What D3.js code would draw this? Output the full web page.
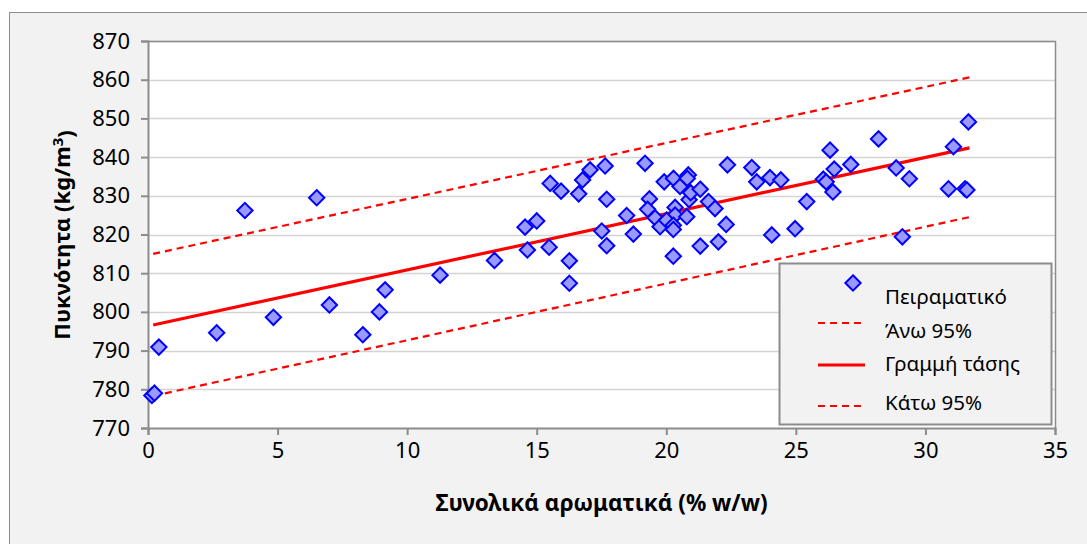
<!DOCTYPE html>
<html>
<head>
<meta charset="utf-8">
<script src="https://cdn.jsdelivr.net/npm/d3@7"></script>
<style>
  html, body { margin: 0; padding: 0; background: #ffffff; }
  svg { display: block; }
  text { font-family: "Noto Sans", "Open Sans", sans-serif; fill: #000; }
</style>
</head>
<body>
<svg id="chart" width="1087" height="544"></svg>
<script>
// Measured samples: total aromatics (% w/w) and density (kg/m3)
const aromatics = [
  0.15, 0.25, 0.42, 2.65, 3.74, 4.84, 6.51, 7.0, 8.29, 8.93,
  9.15, 11.27, 13.37, 14.55, 14.64, 15.0, 15.48, 15.52, 15.94, 16.26,
  16.26, 16.62, 16.77, 17.06, 17.64, 17.70, 17.51, 17.70, 18.47, 18.73,
  19.18, 19.35, 19.28, 19.57, 19.76, 19.92, 20.28, 20.34, 20.34, 20.01,
  20.27, 20.27, 20.27, 20.53, 20.79, 20.85, 20.81, 20.88, 20.94, 21.31,
  21.63, 21.88, 22.31, 21.31, 22.01, 22.36, 23.30, 23.49, 24.0, 24.42,
  24.07, 24.97, 25.42, 26.06, 26.17, 26.32, 26.48, 26.43, 27.12, 28.19,
  28.87, 29.38, 29.11, 30.89, 31.08, 31.53, 31.60, 31.66
];
const density = [
  778.4, 779.0, 790.9, 794.6, 826.2, 798.6, 829.5, 801.8, 794.1, 800.0,
  805.7, 809.5, 813.3, 821.9, 816.0, 823.5, 816.7, 833.2, 831.2, 813.2,
  807.4, 830.5, 834.1, 836.7, 837.7, 829.1, 820.9, 817.1, 824.9, 820.1,
  838.4, 829.2, 826.5, 824.3, 822.0, 833.6, 834.5, 827.0, 825.0, 823.7,
  822.4, 821.3, 814.4, 832.4, 824.6, 835.4, 834.5, 829.0, 830.8, 831.7,
  828.5, 826.7, 822.6, 817.0, 818.1, 838.0, 837.3, 833.6, 834.7, 834.1,
  819.9, 821.5, 828.5, 834.3, 833.6, 841.8, 836.9, 831.0, 838.1, 844.7,
  837.2, 834.4, 819.4, 831.8, 842.7, 831.8, 831.5, 849.1
];

// Linear trend and 95% band, given at both ends of the data range
const fitX = [0.2, 31.7];
const trendY = [796.6, 842.4];
const upperY = [815.0, 860.6];
const lowerY = [778.3, 824.5];

const xTicks = [0, 5, 10, 15, 20, 25, 30, 35];
const yTicks = [770, 780, 790, 800, 810, 820, 830, 840, 850, 860, 870];

const xTitle = "Συνολικά αρωματικά (% w/w)";
const yTitle = "Πυκνότητα (kg/m";
const legendLabels = ["Πειραματικό", "Άνω 95%", "Γραμμή τάσης", "Κάτω 95%"];

const svg = d3.select("#chart");
const plot = { left: 148, top: 41, right: 1055, bottom: 428 };

// chart area frame
svg.append("rect")
  .attr("x", 9.5).attr("y", 12.5)
  .attr("width", 1090).attr("height", 540)
  .attr("fill", "#f2f2f2").attr("stroke", "#8c8c8c").attr("stroke-width", 1);

// plot area
svg.append("rect")
  .attr("x", plot.left).attr("y", plot.top)
  .attr("width", plot.right - plot.left).attr("height", plot.bottom - plot.top)
  .attr("fill", "#ffffff");

const x = d3.scaleLinear().domain([0, 35]).range([plot.left, plot.right]);
const y = d3.scaleLinear().domain([770, 870]).range([plot.bottom, plot.top]);

// horizontal gridlines
svg.append("g").selectAll("line")
  .data(yTicks.slice(1))
  .join("line")
  .attr("x1", plot.left).attr("x2", plot.right)
  .attr("y1", d => Math.round(y(d)) + 0.5).attr("y2", d => Math.round(y(d)) + 0.5)
  .attr("stroke", "#d4d4d4").attr("stroke-width", 1.5);

// plot border on top and right
svg.append("path")
  .attr("d", `M${plot.left},${plot.top + 0.5}H${plot.right + 0.5}V${plot.bottom}`)
  .attr("fill", "none").attr("stroke", "#8c8c8c").attr("stroke-width", 1.5);

// axes
const yAxis = d3.axisLeft(y).tickValues(yTicks).tickSize(7).tickPadding(8).tickFormat(d3.format("d"));
const gy = svg.append("g").attr("transform", `translate(${plot.left},0)`).call(yAxis);
const xAxis = d3.axisBottom(x).tickValues(xTicks).tickSize(7).tickPadding(4).tickFormat(d3.format("d"));
const gx = svg.append("g").attr("transform", `translate(0,${plot.bottom})`).call(xAxis);

[gx, gy].forEach(g => {
  g.select(".domain").attr("stroke", "#8c8c8c").attr("stroke-width", 2);
  g.selectAll(".tick line").attr("stroke", "#8c8c8c").attr("stroke-width", 2);
  g.selectAll(".tick text")
    .attr("font-family", "'Noto Sans', sans-serif")
    .attr("font-size", 22).attr("fill", "#000");
});
gy.selectAll(".tick text").attr("dx", -3);
gx.selectAll(".tick text").attr("dy", "0.85em");

// fitted lines
const line = d3.line().x(d => x(d[0])).y(d => y(d[1]));
const bandStyle = { stroke: "#ff0000", width: 2.2, dash: "7,5" };

svg.append("path")
  .datum(d3.zip(fitX, upperY))
  .attr("d", line).attr("fill", "none")
  .attr("stroke", bandStyle.stroke).attr("stroke-width", bandStyle.width)
  .attr("stroke-dasharray", bandStyle.dash);

svg.append("path")
  .datum(d3.zip(fitX, lowerY))
  .attr("d", line).attr("fill", "none")
  .attr("stroke", bandStyle.stroke).attr("stroke-width", bandStyle.width)
  .attr("stroke-dasharray", bandStyle.dash);

svg.append("path")
  .datum(d3.zip(fitX, trendY))
  .attr("d", line).attr("fill", "none")
  .attr("stroke", "#ff0000").attr("stroke-width", 3.2);

// experimental points as diamonds
const diamond = d3.symbol().type(d3.symbolDiamond2).size(150);
svg.append("g").selectAll("path")
  .data(d3.zip(aromatics, density))
  .join("path")
  .attr("d", diamond)
  .attr("transform", d => `translate(${x(d[0])},${y(d[1])})`)
  .attr("fill", "#9999ff").attr("stroke", "#0000ff").attr("stroke-width", 2);

// legend
const legend = svg.append("g");
legend.append("rect")
  .attr("x", 779.5).attr("y", 263.5).attr("width", 272).attr("height", 161)
  .attr("fill", "#f2f2f2").attr("stroke", "#8c8c8c").attr("stroke-width", 2);

legend.append("path")
  .attr("d", diamond)
  .attr("transform", "translate(853,283)")
  .attr("fill", "#9999ff").attr("stroke", "#0000ff").attr("stroke-width", 2);

const legendRows = [
  { label: legendLabels[0], ty: 297, ly: null },
  { label: legendLabels[1], ty: 331, ly: 323, dash: bandStyle.dash, w: bandStyle.width },
  { label: legendLabels[2], ty: 364, ly: 365, dash: null, w: 3.2 },
  { label: legendLabels[3], ty: 403, ly: 406, dash: bandStyle.dash, w: bandStyle.width }
];
legendRows.forEach(r => {
  if (r.ly !== null) {
    legend.append("line")
      .attr("x1", 818).attr("x2", 865).attr("y1", r.ly).attr("y2", r.ly)
      .attr("stroke", "#ff0000").attr("stroke-width", r.w)
      .attr("stroke-dasharray", r.dash);
  }
  legend.append("text")
    .attr("x", 885).attr("y", r.ty).attr("dy", "0.35em")
    .attr("font-size", 20.5).text(r.label);
});

// axis titles
svg.append("text")
  .attr("x", (plot.left + plot.right) / 2).attr("y", 503).attr("dy", "0.35em")
  .attr("text-anchor", "middle").attr("font-size", 22.5).attr("font-weight", "bold")
  .text(xTitle);

const yt = svg.append("text")
  .attr("transform", "translate(62,235) rotate(-90)")
  .attr("text-anchor", "middle").attr("dy", "0.35em")
  .attr("font-size", 22).attr("font-weight", "bold");
yt.append("tspan").text(yTitle);
yt.append("tspan").attr("dy", "-0.45em").attr("font-size", 15).text("3");
yt.append("tspan").attr("dy", "0.45em").text(")");
</script>
</body>
</html>
